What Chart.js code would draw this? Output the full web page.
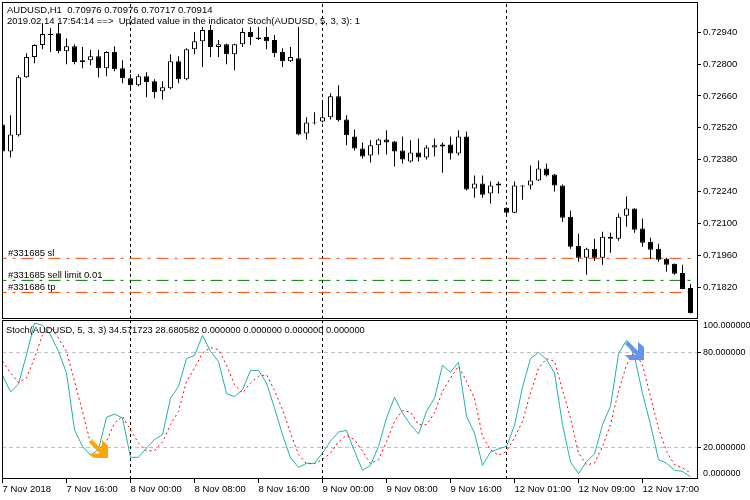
<!DOCTYPE html>
<html lang="en">
<head>
<meta charset="UTF-8">
<title>AUDUSD,H1</title>
<script src="https://cdn.jsdelivr.net/npm/chart.js"></script>
<style>
body { margin: 0; background: #fff; overflow: hidden; }
canvas { position: absolute; left: 0; }
#main { top: 0; }
#sub { top: 320px; }
</style>
</head>
<body>
<canvas id="main" width="750" height="320"></canvas>
<canvas id="sub" width="750" height="180"></canvas>
<script>
// candles, one row per hour
var opens = [0.72535,0.72416,0.72487,0.72742,0.72831,0.72884,0.72934,0.72936,0.72857,0.72879,0.72817,0.72817,0.72835,0.72782,0.72853,0.72782,0.72738,0.72707,0.72747,0.72725,0.72681,0.72694,0.72813,0.72734,0.72866,0.72901,0.72950,0.72875,0.72888,0.72844,0.72888,0.72941,0.72917,0.72919,0.72906,0.72853,0.72813,0.72826,0.72495,0.72544,0.72548,0.72566,0.72659,0.72557,0.72482,0.72429,0.72398,0.72443,0.72469,0.72460,0.72420,0.72372,0.72412,0.72390,0.72434,0.72447,0.72447,0.72407,0.72482,0.72253,0.72275,0.72231,0.72266,0.72169,0.72147,0.72262,0.72266,0.72288,0.72341,0.72315,0.72266,0.72129,0.72002,0.71949,0.71988,0.71949,0.72041,0.72032,0.72134,0.72165,0.72077,0.72019,0.71988,0.71944,0.71922,0.71882,0.71816];
var highs = [0.72553,0.72575,0.72751,0.72848,0.72888,0.72976,0.72959,0.72981,0.72914,0.72888,0.72875,0.72862,0.72862,0.72857,0.72879,0.72817,0.72756,0.72756,0.72764,0.72734,0.72725,0.72844,0.72835,0.72870,0.72941,0.72963,0.72972,0.72906,0.72890,0.72890,0.72959,0.72963,0.72963,0.72963,0.72928,0.72870,0.72875,0.72963,0.72566,0.72588,0.72632,0.72672,0.72707,0.72575,0.72513,0.72456,0.72465,0.72473,0.72509,0.72462,0.72482,0.72465,0.72473,0.72443,0.72473,0.72456,0.72482,0.72509,0.72504,0.72310,0.72310,0.72284,0.72284,0.72171,0.72284,0.72268,0.72354,0.72376,0.72363,0.72317,0.72271,0.72156,0.72054,0.71993,0.72032,0.72063,0.72059,0.72143,0.72218,0.72167,0.72121,0.72037,0.72010,0.71949,0.71924,0.71918,0.71834];
var lows = [0.72385,0.72390,0.72482,0.72740,0.72804,0.72866,0.72853,0.72848,0.72800,0.72800,0.72782,0.72795,0.72742,0.72747,0.72769,0.72716,0.72690,0.72703,0.72654,0.72650,0.72645,0.72690,0.72716,0.72729,0.72844,0.72787,0.72831,0.72831,0.72800,0.72773,0.72875,0.72884,0.72906,0.72866,0.72831,0.72787,0.72809,0.72487,0.72469,0.72535,0.72544,0.72557,0.72548,0.72443,0.72420,0.72385,0.72368,0.72403,0.72403,0.72350,0.72363,0.72368,0.72372,0.72381,0.72394,0.72323,0.72381,0.72398,0.72244,0.72213,0.72213,0.72187,0.72231,0.72134,0.72145,0.72204,0.72249,0.72286,0.72306,0.72240,0.72107,0.71988,0.71931,0.71874,0.71935,0.71918,0.71971,0.72024,0.72085,0.72059,0.71997,0.71944,0.71931,0.71887,0.71874,0.71810,0.71704];
var closes = [0.72416,0.72491,0.72742,0.72831,0.72884,0.72932,0.72928,0.72857,0.72879,0.72809,0.72809,0.72835,0.72782,0.72853,0.72778,0.72738,0.72707,0.72747,0.72720,0.72676,0.72698,0.72813,0.72734,0.72866,0.72901,0.72950,0.72875,0.72888,0.72844,0.72888,0.72941,0.72919,0.72910,0.72901,0.72848,0.72813,0.72831,0.72491,0.72544,0.72540,0.72566,0.72659,0.72553,0.72487,0.72429,0.72394,0.72443,0.72469,0.72456,0.72416,0.72381,0.72412,0.72390,0.72434,0.72443,0.72438,0.72407,0.72482,0.72249,0.72275,0.72226,0.72266,0.72275,0.72147,0.72266,0.72266,0.72288,0.72341,0.72310,0.72266,0.72125,0.71997,0.71949,0.71988,0.71949,0.72041,0.72032,0.72129,0.72165,0.72072,0.72015,0.71984,0.71940,0.71918,0.71878,0.71812,0.71706];

// stochastic main and signal
var stochMain = [65.5,55,60,78.5,98.5,97,91,80.6,67,31,20.6,15,18.5,39,41,38.5,13.7,13.7,19.6,25,28,51,58.5,76,78,90.7,80.6,74.3,54,52,56.4,68.6,68.6,60.6,44.8,28,13.3,7.4,9.9,9.9,16.4,23.8,29.7,30.7,17.5,5.5,8.6,20.6,38.5,51.6,41.7,34.3,28.4,42.7,51,71.8,67.4,73.7,39.6,29,8.6,17,19,20.6,33.9,58,76,80,75.4,67,34.3,10.7,3.4,11,15.8,34.3,46,79,87.6,77.5,54,34.3,12.2,10,5.5,4.8,1.3];
var stochSignal = [74.3,67,61,63.8,76.4,91,96,89,80.6,61.7,42.7,22.7,18.5,23.8,35.4,39.6,31,22.7,17.5,18,23.4,34.3,42.7,61.7,70,79.6,83,81.7,72,59.6,54.3,60.6,64.8,65.9,55.8,43.8,29,15.4,9.7,9.7,12.2,16.4,23.4,27.6,24.8,17.5,9.7,12.2,23.8,36.4,43.2,42.3,34.3,34.3,41.7,55.4,63.8,71.2,61.7,51,27,18.5,15,17.5,26,36.4,54.3,70,76,74.3,56.4,38.5,16.4,9,10,20.6,34.3,55.4,72,80.6,72,52,32,17.5,9,7,3.8];

var priceTicks = [0.7294,0.728,0.7266,0.7252,0.7238,0.7224,0.721,0.7196,0.7182];
var stochTickPos = [97,80,20,3.4];
var stochTickLabels = ["100.000000","80.000000","20.000000","0.000000"];
var stochLevels = [80,20];
var timeTickIdx = [0,8,16,24,32,40,48,56,64,72,80];
var timeTickLabels = ["7 Nov 2018","7 Nov 16:00","8 Nov 00:00","8 Nov 08:00","8 Nov 16:00","9 Nov 00:00","9 Nov 08:00","9 Nov 16:00","12 Nov 01:00","12 Nov 09:00","12 Nov 17:00"];
var separators = [16,40,63];

var orderLabels = ["#331685 sl","#331685 sell limit 0.01","#331686 tp"];
var orderPrices = [0.719464,0.718494,0.717965];
var orderColors = ["#ff4500","#008000","#ff4500"];
var orderEnd = 86.2;

var sellArrowIdx = [12];
var sellArrowVal = [19];
var buyArrowIdx = [79];
var buyArrowVal = [81.2];

var xMin = -0.0625, xMax = 86.8125;

function candleData(a, b) {
  return opens.map(function(o, i) { return {x: i, y: [a[i], b[i]]}; });
}

function arrowImage(color) {
  var c = document.createElement("canvas");
  c.width = 19; c.height = 19;
  var g = c.getContext("2d");
  var pts = [[3,0],[13,10],[13,1],[19,6],[19,19],[5,19],[0,14],[11,14],[0,3]];
  g.fillStyle = color;
  g.beginPath();
  pts.forEach(function(p, i) { if (i) g.lineTo(p[0], p[1]); else g.moveTo(p[0], p[1]); });
  g.closePath();
  g.fill();
  return c;
}

function vLines(yMin, yMax) {
  return separators.map(function(s) {
    return {type: "line", data: [{x: s, y: yMin}, {x: s, y: yMax}], borderColor: "#000", borderWidth: 1,
      borderDash: [3, 3], pointRadius: 0, order: 5};
  });
}

// frame round the plot and the texts
function framePlugin(texts, fontSize) {
  return {
    id: "frame",
    afterDraw: function(chart) {
      var a = chart.chartArea, c = chart.ctx;
      c.save();
      c.strokeStyle = "#000";
      c.lineWidth = 1;
      c.strokeRect(a.left + 0.5, a.top + 0.5, a.right - a.left, a.bottom - a.top - 1);
      c.fillStyle = "#000";
      c.font = fontSize + "px 'Liberation Sans'";
      c.textBaseline = "alphabetic";
      texts(chart).forEach(function(t) { c.fillText(t[0], t[1], t[2]); });
      c.restore();
    }
  };
}

function xScale(show) {
  return {
    type: "linear", display: show, min: xMin, max: xMax, offset: false,
    afterBuildTicks: function(s) { s.ticks = timeTickIdx.map(function(v) { return {value: v}; }); },
    afterFit: function(s) { s.height = show ? 21 : 0; s.paddingLeft = 0; s.paddingRight = 0; },
    grid: {offset: false, drawOnChartArea: false, tickColor: "#000", tickLength: 4},
    border: {display: false},
    ticks: {
      align: "start", autoSkip: false, maxRotation: 0, minRotation: 0, padding: 1,
      color: "#000", font: {family: "Liberation Sans", size: 9.5},
      callback: function(v) { return timeTickLabels[timeTickIdx.indexOf(v)]; }
    }
  };
}

var mainSets = [
  {type: "bar", data: candleData(opens, closes), barThickness: 5, borderWidth: 1, borderColor: "#000",
    backgroundColor: opens.map(function(o, i) { return closes[i] >= o ? "#fff" : "#000"; }),
    grouped: false, inflateAmount: 0, borderSkipped: false, order: 1},
  {type: "bar", data: candleData(lows, highs), barThickness: 1, borderWidth: 0, backgroundColor: "#000",
    grouped: false, inflateAmount: 0, order: 2}
].concat(orderPrices.map(function(p, i) {
  return {type: "line", data: [{x: -1, y: p}, {x: orderEnd, y: p}], borderColor: orderColors[i], borderWidth: 1,
    borderDash: [12, 6, 3, 6], pointRadius: 0, order: 4};
})).concat(vLines(0.7168, 0.7308));

new Chart(document.getElementById("main"), {
  type: "bar",
  data: {datasets: mainSets},
  options: {
    responsive: false, animation: false, devicePixelRatio: 1,
    layout: {autoPadding: false, padding: {left: 2, top: 2, bottom: 1, right: 0}},
    plugins: {legend: {display: false}, tooltip: {enabled: false}},
    scales: {
      x: xScale(false),
      y: {
        position: "right", min: 0.716796, max: 0.730732,
        afterBuildTicks: function(s) { s.ticks = priceTicks.map(function(v) { return {value: v}; }); },
        afterFit: function(s) { s.width = 53; s.paddingTop = 0; s.paddingBottom = 0; },
        grid: {drawOnChartArea: false, tickColor: "#000", tickLength: 4},
        border: {display: false},
        ticks: {padding: 2, color: "#000", font: {family: "Liberation Sans", size: 9.5},
          callback: function(v) { return v.toFixed(5); }}
      }
    }
  },
  plugins: [framePlugin(function(chart) {
    var y = chart.scales.y;
    var out = [
      ["AUDUSD,H1  0.70976 0.70976 0.70717 0.70914", 7, 13],
      ["2019.02.14 17:54:14 ==>  Updated value in the indicator Stoch(AUDUSD, 5, 3, 3): 1", 7, 24]
    ];
    orderLabels.forEach(function(t, i) {
      out.push([t, 8, y.getPixelForValue(orderPrices[i]) - 2.5]);
    });
    return out;
  }, 9.5)]
});

new Chart(document.getElementById("sub"), {
  type: "line",
  data: {datasets: [
    {data: stochMain.map(function(v, i) { return {x: i, y: v}; }), borderColor: "#20b2aa", borderWidth: 1, pointRadius: 0, tension: 0, order: 3},
    {data: stochSignal.map(function(v, i) { return {x: i, y: v}; }), borderColor: "#ff0000", borderWidth: 1, borderDash: [2, 3], pointRadius: 0, tension: 0, order: 2},
    {data: sellArrowIdx.map(function(v, i) { return {x: v, y: sellArrowVal[i]}; }), showLine: false, pointStyle: arrowImage("#ffa500"), order: 1},
    {data: buyArrowIdx.map(function(v, i) { return {x: v, y: buyArrowVal[i]}; }), showLine: false, pointStyle: arrowImage("#6495ed"), order: 1}
  ].concat(vLines(0, 100.4))},
  options: {
    responsive: false, animation: false, devicePixelRatio: 1,
    layout: {autoPadding: false, padding: {left: 2, top: 0, bottom: 0, right: 0}},
    plugins: {legend: {display: false}, tooltip: {enabled: false}},
    scales: {
      x: xScale(true),
      y: {
        position: "right", min: 0, max: 100.4,
        afterBuildTicks: function(s) { s.ticks = stochTickPos.map(function(v) { return {value: v}; }); },
        afterFit: function(s) { s.width = 53; s.paddingTop = 0; s.paddingBottom = 0; },
        grid: {
          color: function(c) { return stochLevels.indexOf(c.tick.value) >= 0 ? "#c0c0c0" : "rgba(0,0,0,0)"; },
          tickColor: function(c) { return stochLevels.indexOf(c.tick.value) >= 0 ? "#000" : "rgba(0,0,0,0)"; },
          tickLength: 4
        },
        border: {display: false, dash: [4, 3]},
        ticks: {padding: 2, color: "#000", font: {family: "Liberation Sans", size: 9},
          callback: function(v) { return stochTickLabels[stochTickPos.indexOf(v)]; }}
      }
    }
  },
  plugins: [framePlugin(function() {
    return [["Stoch(AUDUSD, 5, 3, 3) 34.571723 28.680582 0.000000 0.000000 0.000000 0.000000", 6, 13]];
  }, 9.3)]
});
</script>
</body>
</html>
